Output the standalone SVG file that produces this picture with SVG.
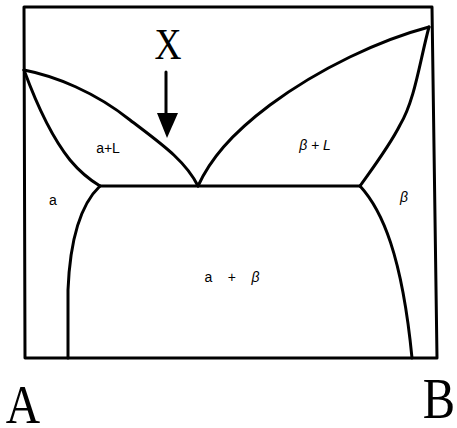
<svg xmlns="http://www.w3.org/2000/svg" width="457" height="428" viewBox="0 0 457 428">
<style>
.ln{fill:none;stroke:#000;stroke-width:3;stroke-linejoin:round;stroke-linecap:round}
.lbl{font-family:"Liberation Sans",Arial,sans-serif;font-size:14px;fill:#000}
.big{font-family:"Liberation Serif","Times New Roman",serif;fill:#000}
</style>
<rect width="457" height="428" fill="#fff"/>
<g id="frame">
<polygon class="ln" points="24,7 432,7 437,358 25,358"/>
</g>
<g id="connectors">
<path class="ln" d="M24,70 C55,76 95,92 130,120 C160,143 185,160 198,186"/>
<path class="ln" d="M24,70 C35,100 50,135 70,160 C80,172 90,180 100,186"/>
<path class="ln" d="M100,186 L360,186"/>
<path class="ln" d="M100,186 C80,205 70,240 68,290 L68,358"/>
<path class="ln" d="M198,186 C210,160 230,135 270,105 C320,68 380,40 429,27"/>
<path class="ln" d="M429,27 C420,60 415,100 400,125 C390,145 375,165 360,186"/>
<path class="ln" d="M360,186 C382,210 402,255 412,358"/>
<line class="ln" x1="166" y1="72" x2="166" y2="116"/>
<polygon points="157,113 178,113 167,138" fill="#000"/>
</g>
<g id="labelX"><text class="big" font-size="44" transform="translate(168,59) scale(0.85,1)" text-anchor="middle">X</text></g>
<g id="labelA"><text class="big" font-size="56" transform="translate(23,423) scale(0.85,1)" text-anchor="middle">A</text></g>
<g id="labelB"><text class="big" font-size="57" transform="translate(439,418) scale(0.85,1)" text-anchor="middle">B</text></g>
<g id="region-aL"><text class="lbl" x="108" y="153" text-anchor="middle">a+L</text></g>
<g id="region-bL"><text class="lbl" x="315" y="150" text-anchor="middle" font-style="italic">β + L</text></g>
<g id="region-a"><text class="lbl" x="53" y="205" text-anchor="middle">a</text></g>
<g id="region-b"><text class="lbl" x="404" y="202" text-anchor="middle" font-style="italic">β</text></g>
<g id="region-ab"><text class="lbl" x="232" y="282" text-anchor="middle" xml:space="preserve">a    +    <tspan font-style="italic">β</tspan></text></g>
</svg>
